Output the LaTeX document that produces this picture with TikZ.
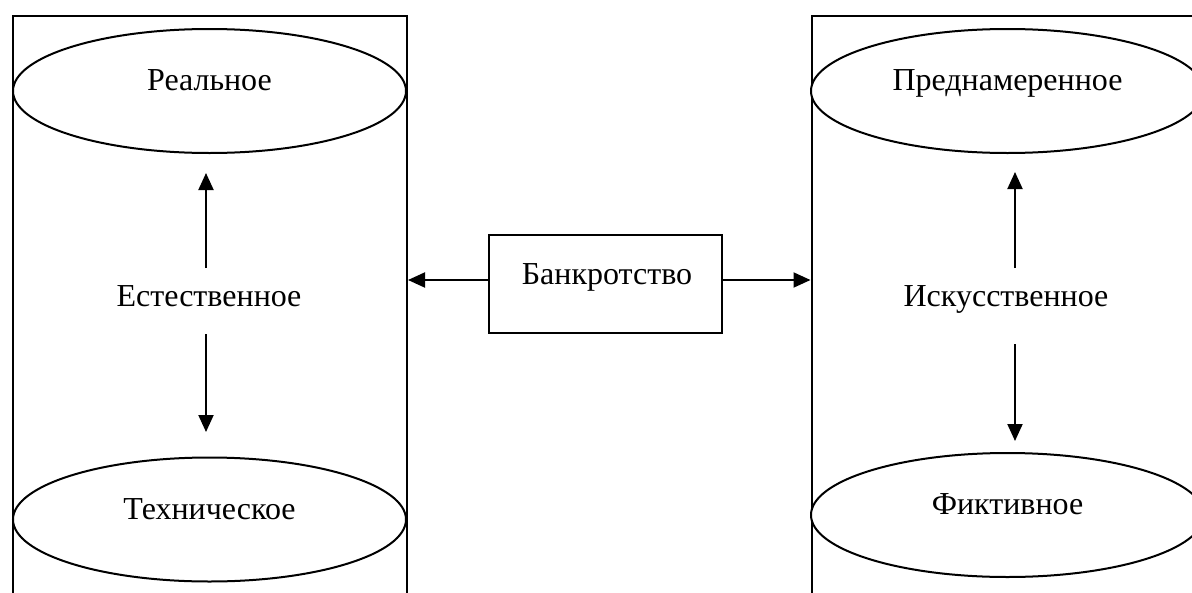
\documentclass[tikz,border=0pt]{standalone}
\usepackage{fontspec}
\setmainfont{Liberation Serif}
\usetikzlibrary{arrows.meta,shapes.geometric}
\begin{document}
\begin{tikzpicture}[x=1pt,y=-1pt,line width=2pt,
  ell/.style={draw,ellipse,minimum width=393pt,minimum height=124pt,inner sep=0pt},
  frame/.style={draw,rectangle,inner sep=0pt,anchor=north west},
  lbl/.style={font=\fontsize{32}{36}\selectfont,inner sep=0pt,anchor=base},
  arr/.style={-{Triangle[length=17pt,width=15pt]}}]
\useasboundingbox (0,0) rectangle (1192,592);
\clip (0,0) rectangle (1192,592);
% frames
\node[frame,minimum width=394pt,minimum height=640pt] (lr) at (12,15) {};
\node[frame,minimum width=500pt,minimum height=640pt] (rr) at (810.5,15) {};
% ellipses
\node[ell,fill=white] (e1) at (209.5,91) {};
\node[ell,fill=white] (e2) at (209.5,519.5) {};
\node[ell,fill=white] (e3) at (1007.5,91) {};
\node[ell,fill=white] (e4) at (1007.5,515) {};
\node[lbl] (t1) at (209.5,90.7) {Реальное};
\node[lbl] (t2) at (209.5,519) {Техническое};
\node[lbl] (t3) at (1007.5,90.7) {Преднамеренное};
\node[lbl] (t4) at (1007.5,514) {Фиктивное};
\node[lbl] (est) at (209,306) {Естественное};
\node[lbl] (isk) at (1006,306) {Искусственное};
% center box
\node[draw,rectangle,inner sep=0pt,minimum width=233pt,minimum height=98pt] (bx) at (605.5,284) {};
\node[lbl] (bt) at (607,284) {Банкротство};
\draw[arr] ([yshift=4pt]bx.west) -- ([yshift=4pt]bx.west -| lr.east);
\draw[arr] ([yshift=4pt]bx.east) -- ([yshift=4pt]bx.east -| rr.west);
% vertical arrows
\coordinate (a1s) at (206,268); \coordinate (a1e) at (206,173);
\coordinate (a2s) at (206,334); \coordinate (a2e) at (206,432);
\coordinate (a3s) at (1015,268); \coordinate (a3e) at (1015,172);
\coordinate (a4s) at (1015,344); \coordinate (a4e) at (1015,441);
\draw[arr] (a1s) -- (a1e);
\draw[arr] (a2s) -- (a2e);
\draw[arr] (a3s) -- (a3e);
\draw[arr] (a4s) -- (a4e);
\end{tikzpicture}
\end{document}
